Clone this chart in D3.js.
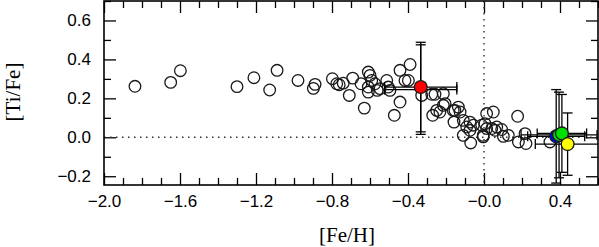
<!DOCTYPE html>
<html>
<head>
<meta charset="utf-8">
<script src="https://cdn.jsdelivr.net/npm/d3@7"></script>
<style>
    html, body { margin: 0; padding: 0; background: #fff; }
    svg { display: block; }
    .tick text { font-family: 'Liberation Sans', 'DejaVu Sans', sans-serif; font-size: 17px; fill: #000; }
    .title { font-family: 'Liberation Serif', 'DejaVu Serif', serif; font-size: 21px; fill: #000; }
</style>
</head>
<body>
<svg id="chart" width="599" height="247"></svg>
<script>
// sample stars, [Fe/H] and [Ti/Fe]
var feh = [-1.837, -1.649, -1.598, -1.300, -1.211, -1.128, -1.089, -0.979, -0.889, -0.898,
    -0.798, -0.775, -0.762, -0.741, -0.709, -0.691, -0.647, -0.630, -0.609, -0.600,
    -0.591, -0.609, -0.609, -0.574, -0.562, -0.547, -0.512, -0.504, -0.495, -0.472,
    -0.442, -0.442, -0.416, -0.398, -0.389, -0.328, -0.275, -0.258, -0.214, -0.270,
    -0.249, -0.205, -0.162, -0.135, -0.126, -0.158, -0.109, -0.091, -0.074, -0.056,
    -0.109, -0.070, -0.012, 0.005, 0.014, 0.014, 0.049, -0.004, 0.041, 0.067,
    -0.232, -0.214, -0.153, -0.074, -0.004, 0.058, 0.093, 0.102, 0.128, 0.177,
    0.181, 0.216, 0.221, 0.347];
var tife = [0.262, 0.282, 0.342, 0.260, 0.306, 0.243, 0.344, 0.292, 0.272, 0.251,
    0.301, 0.275, 0.270, 0.278, 0.215, 0.304, 0.275, 0.150, 0.335, 0.318,
    0.292, 0.258, 0.232, 0.275, 0.241, 0.250, 0.292, 0.258, 0.241, 0.113,
    0.181, 0.344, 0.292, 0.292, 0.374, 0.215, 0.221, 0.221, 0.224, 0.113,
    0.138, 0.173, 0.138, 0.155, 0.130, 0.078, 0.087, 0.053, 0.078, 0.062,
    0.010, -0.029, 0.062, 0.070, 0.045, 0.122, 0.130, 0.002, 0.045, 0.053,
    0.130, 0.164, 0.138, 0.036, 0.010, 0.036, 0.040, 0.005, 0.010, 0.108,
    -0.024, 0.019, -0.032, -0.024];

// highlighted stars with error bars
var specName = ['red2', 'red', 'blue', 'greenA', 'greenB', 'yellow'];
var specFeh = [-0.333, -0.333, 0.38, 0.395, 0.41, 0.44];
var specTife = [0.245, 0.258, 0.005, 0.012, 0.02, -0.035];
var specFehErr = [0.19, 0.19, 0.15, 0.20, 0.13, 0.17];
var specTifeErr = [0.23, 0.23, 0.24, 0.22, 0.20, 0.16];

var xTicks = [-2.0, -1.6, -1.2, -0.8, -0.4, 0.0, 0.4];
var xTickLabels = ['\u22122.0', '\u22121.6', '\u22121.2', '\u22120.8', '\u22120.4', '\u22120.0', '0.4'];
var yTicks = [-0.2, 0.0, 0.2, 0.4, 0.6];
var yTickLabels = ['\u22120.2', '0.0', '0.2', '0.4', '0.6'];

var fills = { red2: 'none', red: '#ff0000', blue: '#0000ff', greenA: '#00e000', greenB: '#00e000', yellow: '#ffff00' };

var svg = d3.select('#chart');
var pLeft = 104, pRight = 598, pTop = 1, pBottom = 185;

var x = d3.scaleLinear().domain([-2.0, 0.6]).range([pLeft, pRight]);
var y = d3.scaleLinear().domain([-0.245, 0.70]).range([pBottom, pTop]);

var xMinor = d3.range(-20, 7).map(function (d) { return d / 10; }).filter(function (d) {
    return xTicks.every(function (t) { return Math.abs(t - d) > 1e-6; });
});
var yMinor = d3.range(-2, 8).map(function (d) { return d / 10; }).filter(function (d) {
    return yTicks.every(function (t) { return Math.abs(t - d) > 1e-6; });
});

svg.append('defs').append('clipPath').attr('id', 'plotclip')
    .append('rect').attr('x', pLeft).attr('y', pTop).attr('width', pRight - pLeft).attr('height', pBottom - pTop);

function styleAxis(g) {
    g.select('.domain').remove();
    g.selectAll('.tick line').attr('stroke', '#000').attr('stroke-width', 1.3);
}

// bottom
svg.append('g').attr('transform', 'translate(0,' + pBottom + ')')
    .call(d3.axisBottom(x).tickValues(xTicks).tickSize(-12).tickPadding(10)
        .tickFormat(function (d, i) { return xTickLabels[i]; }))
    .call(styleAxis);
svg.append('g').attr('transform', 'translate(0,' + pBottom + ')')
    .call(d3.axisBottom(x).tickValues(xMinor).tickSize(-7).tickFormat(''))
    .call(styleAxis);
// top
svg.append('g').attr('transform', 'translate(0,' + pTop + ')')
    .call(d3.axisTop(x).tickValues(xTicks).tickSize(-12).tickFormat(''))
    .call(styleAxis);
svg.append('g').attr('transform', 'translate(0,' + pTop + ')')
    .call(d3.axisTop(x).tickValues(xMinor).tickSize(-7).tickFormat(''))
    .call(styleAxis);
// left
svg.append('g').attr('transform', 'translate(' + pLeft + ',0)')
    .call(d3.axisLeft(y).tickValues(yTicks).tickSize(-12).tickPadding(13)
        .tickFormat(function (d, i) { return yTickLabels[i]; }))
    .call(styleAxis);
svg.append('g').attr('transform', 'translate(' + pLeft + ',0)')
    .call(d3.axisLeft(y).tickValues(yMinor).tickSize(-7).tickFormat(''))
    .call(styleAxis);
// right
svg.append('g').attr('transform', 'translate(' + pRight + ',0)')
    .call(d3.axisRight(y).tickValues(yTicks).tickSize(-12).tickFormat(''))
    .call(styleAxis);
svg.append('g').attr('transform', 'translate(' + pRight + ',0)')
    .call(d3.axisRight(y).tickValues(yMinor).tickSize(-7).tickFormat(''))
    .call(styleAxis);

// dotted zero lines
var plot = svg.append('g').attr('clip-path', 'url(#plotclip)');
plot.append('line')
    .attr('x1', pLeft).attr('x2', pRight).attr('y1', y(0)).attr('y2', y(0))
    .attr('stroke', '#333').attr('stroke-width', 1.4).attr('stroke-dasharray', '1.5,4.5');
plot.append('line')
    .attr('x1', x(0)).attr('x2', x(0)).attr('y1', pTop).attr('y2', pBottom)
    .attr('stroke', '#333').attr('stroke-width', 1.4).attr('stroke-dasharray', '1.5,4.5');

// open circles
plot.selectAll('.star')
    .data(d3.range(feh.length))
    .enter().append('circle')
    .attr('class', 'star')
    .attr('cx', function (i) { return x(feh[i]); })
    .attr('cy', function (i) { return y(tife[i]); })
    .attr('r', 5.8)
    .attr('fill', 'none')
    .attr('stroke', '#1a1a1a')
    .attr('stroke-width', 1.3);

// error bars
var cap = 5;
var eb = plot.selectAll('.ebar')
    .data(d3.range(specName.length))
    .enter().append('g')
    .attr('class', 'ebar')
    .attr('stroke', '#000')
    .attr('stroke-width', 1.3);

eb.each(function (i) {
    var g = d3.select(this),
        cx = x(specFeh[i]),
        cy = y(specTife[i]),
        x0 = x(specFeh[i] - specFehErr[i]),
        x1 = x(specFeh[i] + specFehErr[i]),
        y0 = y(specTife[i] - specTifeErr[i]),
        y1 = y(specTife[i] + specTifeErr[i]);
    g.append('line').attr('x1', x0).attr('x2', x1).attr('y1', cy).attr('y2', cy);
    g.append('line').attr('x1', x0).attr('x2', x0).attr('y1', cy - cap).attr('y2', cy + cap);
    g.append('line').attr('x1', x1).attr('x2', x1).attr('y1', cy - cap).attr('y2', cy + cap);
    g.append('line').attr('x1', cx).attr('x2', cx).attr('y1', y0).attr('y2', y1);
    g.append('line').attr('x1', cx - cap).attr('x2', cx + cap).attr('y1', y0).attr('y2', y0);
    g.append('line').attr('x1', cx - cap).attr('x2', cx + cap).attr('y1', y1).attr('y2', y1);
});

// coloured stars
plot.selectAll('.spec')
    .data(d3.range(specName.length).filter(function (i) { return fills[specName[i]] != 'none'; }))
    .enter().append('circle')
    .attr('class', 'spec')
    .attr('cx', function (i) { return x(specFeh[i]); })
    .attr('cy', function (i) { return y(specTife[i]); })
    .attr('r', 6.4)
    .attr('fill', function (i) { return fills[specName[i]]; })
    .attr('stroke', '#1a1a1a')
    .attr('stroke-width', 1.3);

// frame
svg.append('rect')
    .attr('x', pLeft).attr('y', pTop)
    .attr('width', pRight - pLeft).attr('height', pBottom - pTop)
    .attr('fill', 'none').attr('stroke', '#000').attr('stroke-width', 1.6);

// axis titles
svg.append('text').attr('class', 'title')
    .attr('x', 347).attr('y', 242)
    .attr('text-anchor', 'middle')
    .text('[Fe/H]');
svg.append('text').attr('class', 'title')
    .attr('transform', 'translate(20,' + 92 + ') rotate(-90)')
    .attr('text-anchor', 'middle')
    .text('[Ti/Fe]');
</script>
</body>
</html>
